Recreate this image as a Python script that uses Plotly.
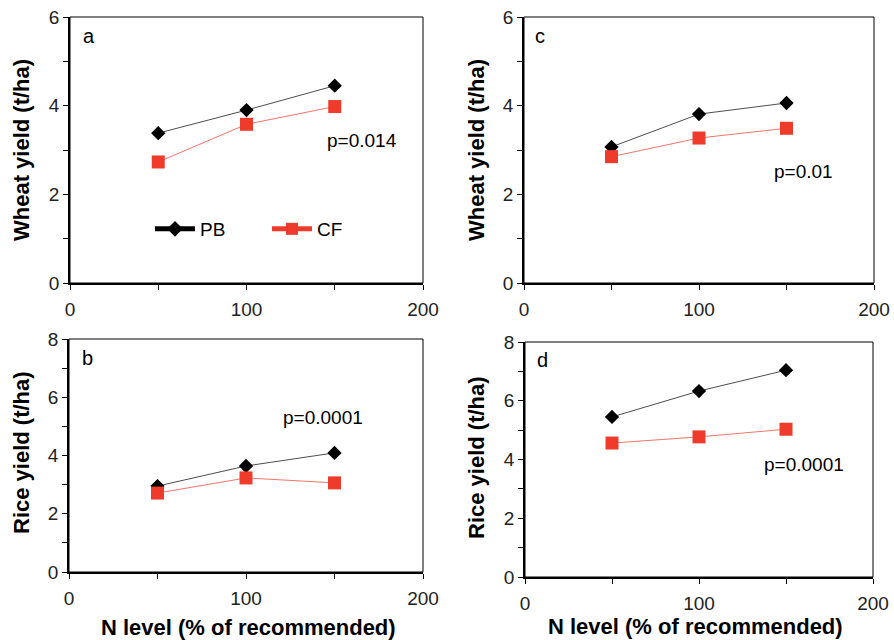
import plotly.graph_objects as go

W, H = 894, 640

n_level = [50, 100, 150]

wheat_a_pb = [3.38, 3.90, 4.45]
wheat_a_cf = [2.73, 3.58, 3.98]
rice_b_pb = [2.95, 3.64, 4.09]
rice_b_cf = [2.71, 3.23, 3.06]
wheat_c_pb = [3.07, 3.81, 4.06]
wheat_c_cf = [2.85, 3.27, 3.49]
rice_d_pb = [5.45, 6.33, 7.04]
rice_d_cf = [4.56, 4.77, 5.03]

series_names = ["PB", "CF"]
panel_letters = ["a", "b", "c", "d"]
p_values = ["p=0.014", "p=0.0001", "p=0.01", "p=0.0001"]

x_tickvals = [0, 50, 100, 150, 200]
x_ticktext = ["0", "", "100", "", "200"]
wheat_tickvals = [0, 1, 2, 3, 4, 5, 6]
wheat_ticktext = ["0", "", "2", "", "4", "", "6"]
rice_tickvals = [0, 1, 2, 3, 4, 5, 6, 7, 8]
rice_ticktext = ["0", "", "2", "", "4", "", "6", "", "8"]

FONT = "Liberation Sans, Arial, sans-serif"
PB_COLOR = "#000000"
CF_COLOR = "#ee3b2b"


def fx(px):
    return px / W


def fy(py):
    return 1 - py / H


# panel pixel boxes: (left, right, top, bottom)
boxes = {
    "a": (70, 423, 17, 283),
    "b": (69, 423, 339, 572),
    "c": (524, 874, 17, 283),
    "d": (525, 873, 342, 577),
}

fig = go.Figure()

panels = [
    ("a", "x", "y", wheat_a_pb, wheat_a_cf, True),
    ("b", "x2", "y2", rice_b_pb, rice_b_cf, False),
    ("c", "x3", "y3", wheat_c_pb, wheat_c_cf, False),
    ("d", "x4", "y4", rice_d_pb, rice_d_cf, False),
]

for key, xa, ya, pb, cf, show in panels:
    fig.add_trace(go.Scatter(
        x=n_level, y=pb, name=series_names[0], xaxis=xa, yaxis=ya,
        mode="lines+markers", showlegend=show, legendrank=1,
        line=dict(color=PB_COLOR, width=0.7),
        marker=dict(symbol="diamond", size=11, color=PB_COLOR),
    ))
    fig.add_trace(go.Scatter(
        x=n_level, y=cf, name=series_names[1], xaxis=xa, yaxis=ya,
        mode="lines+markers", showlegend=show, legendrank=2,
        line=dict(color=CF_COLOR, width=0.7),
        marker=dict(symbol="square", size=13, color=CF_COLOR),
    ))

axis_common = dict(
    showgrid=False, zeroline=False, showline=True, linecolor="black",
    linewidth=1.5, ticks="outside", ticklen=5, tickwidth=1, tickcolor="black",
    tickfont=dict(family=FONT, size=19, color="#222"), automargin=False,
)

layout_axes = {}
names = {"a": ("xaxis", "yaxis", "x", "y"),
         "b": ("xaxis2", "yaxis2", "x2", "y2"),
         "c": ("xaxis3", "yaxis3", "x3", "y3"),
         "d": ("xaxis4", "yaxis4", "x4", "y4")}

for key, (xn, yn, xr, yr) in names.items():
    l, r, t, b = boxes[key]
    wheat = key in ("a", "c")
    layout_axes[xn] = dict(
        axis_common, domain=[fx(l), fx(r)], anchor=yr, range=[0, 200],
        tickmode="array", tickvals=x_tickvals, ticktext=x_ticktext,
        ticklabelstandoff=3,
    )
    layout_axes[yn] = dict(
        axis_common, domain=[fy(b), fy(t)], anchor=xr,
        range=[0, 6] if wheat else [0, 8], tickmode="array",
        tickvals=wheat_tickvals if wheat else rice_tickvals,
        ticktext=wheat_ticktext if wheat else rice_ticktext,
    )

fig.update_layout(**layout_axes)

shapes = []
for key, (xn, yn, xr, yr) in names.items():
    shapes.append(dict(
        type="rect", xref=f"{xr} domain", yref=f"{yr} domain",
        x0=0, x1=1, y0=0, y1=1, line=dict(color="black", width=1),
        layer="below",
    ))

annotations = []
letter_pos = {"a": (89, 36), "b": (87, 358), "c": (540, 36), "d": (542, 360)}
p_pos = {"a": (362, 140), "b": (323, 417), "c": (803, 171), "d": (804, 464)}
for i, key in enumerate(["a", "b", "c", "d"]):
    lx, ly = letter_pos[key]
    annotations.append(dict(
        text=panel_letters[i], x=fx(lx), y=fy(ly), xref="paper", yref="paper",
        showarrow=False, xanchor="center", yanchor="middle",
        font=dict(family=FONT, size=20, color="black"),
    ))
    px_, py_ = p_pos[key]
    annotations.append(dict(
        text=p_values[i], x=fx(px_), y=fy(py_), xref="paper", yref="paper",
        showarrow=False, xanchor="center", yanchor="middle",
        font=dict(family=FONT, size=19, color="black"),
    ))

ytitles = [("Wheat yield (t/ha)", 21, 150), ("Rice yield (t/ha)", 21, 453),
           ("Wheat yield (t/ha)", 476, 150), ("Rice yield (t/ha)", 476, 458)]
for txt, x, y in ytitles:
    annotations.append(dict(
        text=f"<b>{txt}</b>", x=fx(x), y=fy(y), xref="paper", yref="paper",
        showarrow=False, textangle=-90, xanchor="center", yanchor="middle",
        font=dict(family=FONT, size=22, color="black"),
    ))
for x, y in [(248, 627), (695, 626)]:
    annotations.append(dict(
        text="<b>N level (% of recommended)</b>", x=fx(x), y=fy(y),
        xref="paper", yref="paper", showarrow=False,
        xanchor="center", yanchor="middle",
        font=dict(family=FONT, size=22, color="black"),
    ))

fig.update_layout(
    template="none",
    width=W, height=H, margin=dict(l=0, r=0, t=0, b=0, pad=0, autoexpand=False),
    paper_bgcolor="white", plot_bgcolor="white",
    shapes=shapes, annotations=annotations,
    legend=dict(
        orientation="h", x=fx(150), y=fy(210), xanchor="left", yanchor="top",
        bgcolor="rgba(0,0,0,0)", font=dict(family=FONT, size=19, color="black"),
        itemwidth=40, entrywidth=62, entrywidthmode="pixels",
        itemsizing="constant", traceorder="normal",
    ),
)

fig.write_html("out.html")
